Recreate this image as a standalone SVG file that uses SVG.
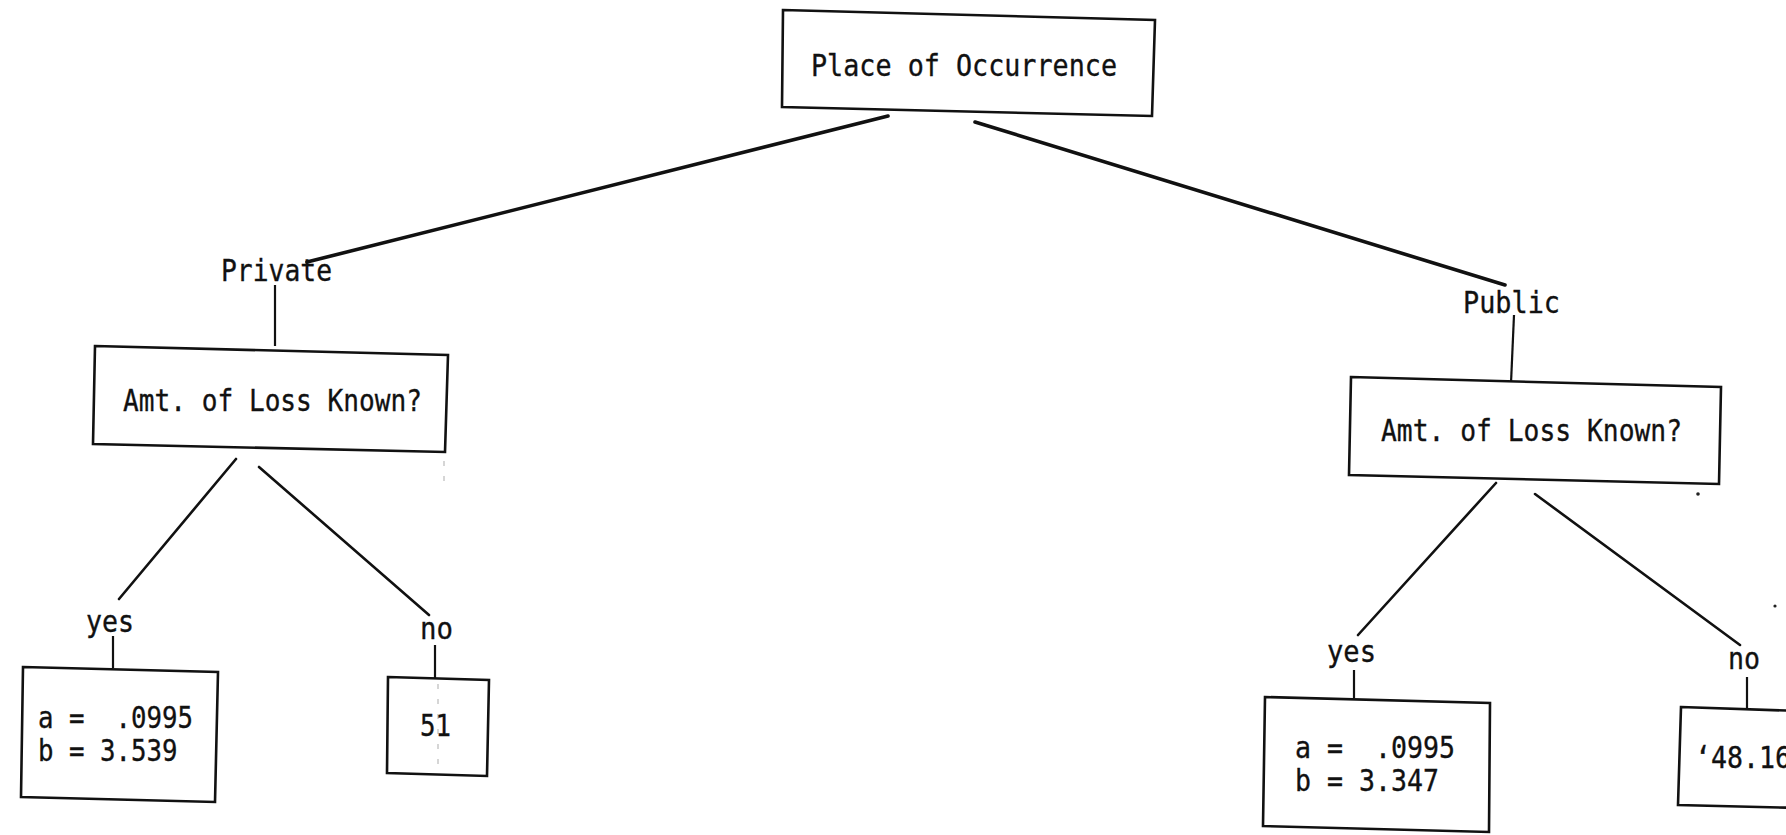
<svg xmlns="http://www.w3.org/2000/svg" width="1786" height="835" viewBox="0 0 1786 835">
  <style>
    .box { fill: #fff; stroke: #111; stroke-width: 2.6; stroke-linejoin: miter; }
    .edge { stroke: #111; stroke-width: 2.6; stroke-linecap: round; fill: none; }
    .edge.heavy { stroke-width: 3.6; }
    .tick { stroke: #111; stroke-width: 2.2; stroke-linecap: butt; }
    .t { font-family: "DejaVu Sans Mono", "Liberation Mono", monospace; fill: #111; stroke: #111; stroke-width: 0.35; font-size: 31px; }
    .speck { fill: #222; }
    .faint { stroke: #bbb; stroke-width: 1.2; stroke-dasharray: 5 10; }
  </style>

  <rect width="1786" height="835" fill="#fff"/>

  <!-- connectors between decision nodes and branch labels -->
  <g id="connectors">
    <line class="edge heavy" x1="888" y1="116" x2="307" y2="262"/>
    <line class="edge heavy" x1="975" y1="122" x2="1505" y2="285"/>
    <line class="tick" x1="275" y1="285" x2="275" y2="346"/>
    <line class="tick" x1="1514" y1="315" x2="1511" y2="383"/>
    <line class="edge" x1="236" y1="459" x2="119" y2="599"/>
    <line class="edge" x1="259" y1="467" x2="429" y2="615"/>
    <line class="tick" x1="113" y1="636" x2="113" y2="668"/>
    <line class="tick" x1="435" y1="645" x2="435" y2="678"/>
    <line class="edge" x1="1496" y1="483" x2="1358" y2="635"/>
    <line class="edge" x1="1535" y1="494" x2="1740" y2="645"/>
    <line class="tick" x1="1354" y1="670" x2="1354" y2="698"/>
    <line class="tick" x1="1747" y1="677" x2="1747" y2="708"/>
  </g>

  <!-- root split -->
  <g id="node-place">
    <polygon class="box" points="783,10 1155,20 1152,116 782,107"/>
    <text class="t" x="811" y="76" font-size="35" textLength="306" lengthAdjust="spacingAndGlyphs">Place of Occurrence</text>
  </g>

  <g id="label-private">
    <text class="t" x="221" y="281" font-size="30" textLength="111" lengthAdjust="spacingAndGlyphs">Private</text>
  </g>

  <g id="label-public">
    <text class="t" x="1463" y="313" font-size="32" textLength="97" lengthAdjust="spacingAndGlyphs">Public</text>
  </g>

  <g id="node-loss-private">
    <polygon class="box" points="95,346 448,355 445,452 93,444"/>
    <text class="t" x="123" y="411" font-size="33" textLength="299" lengthAdjust="spacingAndGlyphs">Amt. of Loss Known?</text>
  </g>

  <g id="node-loss-public">
    <polygon class="box" points="1351,377 1721,387 1719,484 1349,475"/>
    <text class="t" x="1381" y="441" font-size="33" textLength="301" lengthAdjust="spacingAndGlyphs">Amt. of Loss Known?</text>
  </g>

  <!-- branch labels -->
  <g id="label-private-yes">
    <text class="t" x="86" y="632" font-size="31" textLength="48" lengthAdjust="spacingAndGlyphs">yes</text>
  </g>
  <g id="label-private-no">
    <text class="t" x="420" y="639" font-size="31" textLength="33" lengthAdjust="spacingAndGlyphs">no</text>
  </g>
  <g id="label-public-yes">
    <text class="t" x="1327" y="662" font-size="31" textLength="49" lengthAdjust="spacingAndGlyphs">yes</text>
  </g>
  <g id="label-public-no">
    <text class="t" x="1728" y="669" font-size="31" textLength="32" lengthAdjust="spacingAndGlyphs">no</text>
  </g>

  <!-- leaves -->
  <g id="leaf-private-yes">
    <polygon class="box" points="23,667 218,672 215,802 21,797"/>
    <text class="t" x="38" y="728" font-size="31" textLength="155" lengthAdjust="spacingAndGlyphs" xml:space="preserve">a =  .0995</text>
    <text class="t" x="38" y="761" font-size="31" textLength="139.5" lengthAdjust="spacingAndGlyphs" xml:space="preserve">b = 3.539</text>
  </g>

  <g id="leaf-private-no">
    <polygon class="box" points="388,677 489,680 487,776 387,773"/>
    <line class="faint" x1="438" y1="684" x2="438" y2="772"/>
    <text class="t" x="420" y="736" font-size="32" textLength="31" lengthAdjust="spacingAndGlyphs">51</text>
  </g>

  <g id="leaf-public-yes">
    <polygon class="box" points="1265,697 1490,703 1489,832 1263,826"/>
    <text class="t" x="1295" y="758" font-size="31" textLength="160" lengthAdjust="spacingAndGlyphs" xml:space="preserve">a =  .0995</text>
    <text class="t" x="1295" y="791" font-size="31" textLength="144" lengthAdjust="spacingAndGlyphs" xml:space="preserve">b = 3.347</text>
  </g>

  <g id="leaf-public-no">
    <polygon class="box" points="1681,707 1800,711 1800,808 1678,805"/>
    <text class="t" x="1695" y="768" font-size="33" textLength="96" lengthAdjust="spacingAndGlyphs">‘48.16</text>
  </g>

  <!-- stray marks on the sheet -->
  <g id="marks">
    <line class="faint" x1="444" y1="461" x2="444" y2="483" stroke-dasharray="8 3"/>
    <circle class="speck" cx="1698" cy="494" r="1.8"/>
    <circle class="speck" cx="1775" cy="606" r="1.6"/>
  </g>
</svg>
